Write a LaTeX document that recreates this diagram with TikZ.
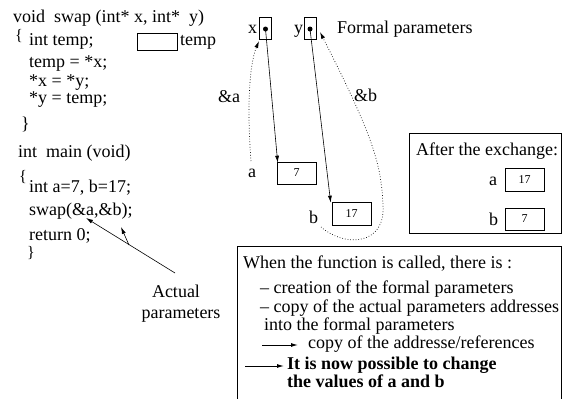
\documentclass[tikz,border=0pt]{standalone}
\usepackage{fontspec}
\setmainfont{Liberation Serif}
\usetikzlibrary{arrows.meta}
\begin{document}
\begin{tikzpicture}[x=1pt,y=-1pt,
  txt/.style={anchor=base west,inner sep=0pt,font=\fontsize{18}{20}\selectfont},
  bold/.style={font=\fontsize{18}{20}\selectfont\bfseries},
  small/.style={font=\fontsize{12}{14}\selectfont,inner sep=0pt},
  cell/.style={draw,line width=0.6pt},
  arr/.style={-{Latex[length=7pt,width=4pt]},line width=0.6pt},
  dotarr/.style={dotted,line width=0.7pt,-{Latex[length=7pt,width=4pt]}}]
\useasboundingbox (0,0) rectangle (563,399);
% left code
\node[txt] (l1) at (13,22) {void\ \ swap (int* x, int* \ y)};
\node[txt,font=\fontsize{16}{18}\selectfont] (b1) at (15,40) {\{};
\node[txt] (l2) at (29,45) {int temp;};
\draw[cell] (137,33) rectangle (177,50);
\node[txt] (tmp) at (180,45) {temp};
\node[txt] (l3) at (29,67) {temp = *x;};
\node[txt] (l4) at (29,86) {*x = *y;};
\node[txt] (l5) at (29,103) {*y = temp;};
\node[txt] (b2) at (21,129) {\}};
\node[txt] (m1) at (18,157) {int\ \ main (void)};
\node[txt,font=\fontsize{16}{18}\selectfont] (b3) at (19,181) {\{};
\node[txt] (m2) at (29,192) {int a=7, b=17;};
\node[txt] (m3) at (29,215) {swap(\&a,\&b);};
\node[txt] (m4) at (29,240) {return 0;};
\node[txt,font=\fontsize{16}{18}\selectfont] (b4) at (27,257) {\}};
\node[txt,anchor=base] (act) at (176,297) {Actual};
\node[txt,anchor=base] (par) at (181,318) {parameters};
\coordinate (ap) at (175,273);
\coordinate (apb) at (129,245);
\coordinate (ta) at (86,218);
\coordinate (tb) at (121,227);
\draw[arr] (ap) -- (ta);
\draw[arr] (apb) -- (tb);
% formal params
\draw[cell] (259.5,17) rectangle (271,39);
\draw[cell] (304,17) rectangle (316,39);
\node[circle,fill,inner sep=0pt,minimum size=5pt] (xd) at (265.5,29) {};
\node[circle,fill,inner sep=0pt,minimum size=5pt] (yd) at (310,29) {};
\coordinate (xbsw) at (259,41);
\coordinate (ybe) at (320,32);
\node[txt] (xl) at (248,33) {x};
\node[txt] (yl) at (294,33) {y};
\node[txt] (fp) at (337,33) {Formal parameters};
% a and b
\node[txt] (al) at (248,177) {a};
\node[draw,line width=0.6pt,minimum width=39pt,minimum height=22pt,small] (a7) at (296.5,173) {7};
\node[txt] (bl) at (309,223) {b};
\node[draw,line width=0.6pt,minimum width=39pt,minimum height=23pt,small] (b17) at (351.5,213.5) {17};
\draw[arr] (xd.center) -- ([xshift=1pt,yshift=-1pt]a7.north west);
\draw[arr] (yd.center) -- ([xshift=-1pt,yshift=-1pt]b17.north west);
\node[txt] (amp1) at (218,102) {\&a};
\node[txt] (amp2) at (354,101) {\&b};
\draw[dotarr] (251,161) .. controls (247,110) and (249,65) .. (xbsw);
\draw[dotarr] (321,227) .. controls (345,248) and (386,245) .. (383,205)
   .. controls (381,165) and (375,140) .. (ybe);
% after box
\draw[line width=0.6pt] (409,133) rectangle (561,233);
\node[txt] (aft) at (416,155) {After the exchange:};
\node[txt] (aa) at (489,185) {a};
\node[draw,line width=0.6pt,minimum width=39pt,minimum height=23pt,small] (a17) at (524.5,179.5) {17};
\node[txt] (bb) at (489,225) {b};
\node[draw,line width=0.6pt,minimum width=39pt,minimum height=22pt,small] (bb7) at (524.5,219) {7};
% bottom box
\draw[line width=0.6pt] (237,402) -- (237,246) -- (561,246) -- (561,402);
\node[txt] (w1) at (243,268) {When the function is called, there is :};
\node[txt] (w2) at (260,293) {-- creation of the formal parameters};
\node[txt] (w3) at (260,312) {-- copy of the actual parameters addresses};
\node[txt] (w4) at (264,330) {into the formal parameters};
\coordinate (r1a) at (262,345);
\coordinate (r1b) at (298,345);
\draw[arr,line width=1pt] (r1a) -- (r1b);
\node[txt] (w5) at (308,348) {copy of the addresse/references};
\coordinate (r2a) at (245,366);
\coordinate (r2b) at (284,366);
\draw[arr,line width=1pt] (r2a) -- (r2b);
\node[txt,bold] (w6) at (287,369) {It is now possible to change};
\node[txt,bold] (w7) at (287,387) {the values of a and b};
\end{tikzpicture}
\end{document}
